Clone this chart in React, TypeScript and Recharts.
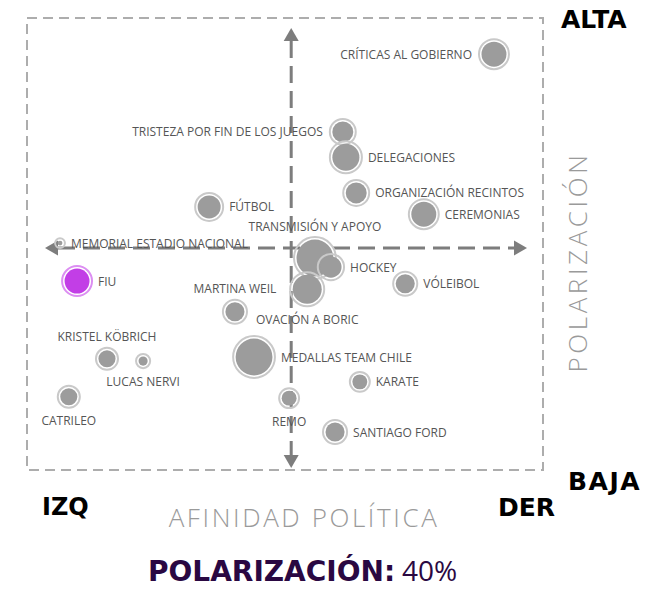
import React from 'react';
import { ScatterChart, Scatter, XAxis, YAxis, ZAxis, ReferenceArea, ReferenceLine } from 'recharts';

// topics, political affinity (0 = izq, 100 = der), polarization (0 = baja, 100 = alta), volume
const topics = [
  'CRÍTICAS AL GOBIERNO', 'TRISTEZA POR FIN DE LOS JUEGOS', 'DELEGACIONES', 'ORGANIZACIÓN RECINTOS',
  'CEREMONIAS', 'FÚTBOL', 'TRANSMISIÓN Y APOYO', 'HOCKEY', 'OVACIÓN A BORIC', 'VÓLEIBOL',
  'MEMORIAL ESTADIO NACIONAL', 'FIU', 'MARTINA WEIL', 'KRISTEL KÖBRICH', 'LUCAS NERVI', 'CATRILEO',
  'MEDALLAS TEAM CHILE', 'KARATE', 'REMO', 'SANTIAGO FORD',
];
const afinidad = [90.5, 61.2, 61.8, 63.8, 76.9, 35.3, 55.8, 58.9, 54.3, 73.3, 6.4, 9.7, 40.3, 15.5, 22.5, 8.1, 44.0, 64.5, 50.8, 59.7];
const polarizacion = [92.0, 74.8, 69.2, 61.3, 56.6, 58.2, 46.9, 44.9, 40.0, 41.2, 50.2, 41.8, 35.0, 24.6, 24.1, 16.2, 25.0, 19.5, 15.9, 8.4];
const menciones = [255, 195, 290, 195, 255, 225, 480, 200, 325, 170, 35, 255, 170, 145, 65, 145, 480, 120, 120, 170];

const highlight = 'FIU';
const polarizacionTotal = '40%';
const cross = { x: 51.2, y: 49.1 };

const labelSide: Record<string, 'left' | 'right' | 'top' | 'bottom'> = {
  'CRÍTICAS AL GOBIERNO': 'left',
  'TRISTEZA POR FIN DE LOS JUEGOS': 'left',
  'DELEGACIONES': 'right',
  'ORGANIZACIÓN RECINTOS': 'right',
  'CEREMONIAS': 'right',
  'FÚTBOL': 'right',
  'TRANSMISIÓN Y APOYO': 'top',
  'HOCKEY': 'right',
  'OVACIÓN A BORIC': 'bottom',
  'VÓLEIBOL': 'right',
  'MEMORIAL ESTADIO NACIONAL': 'right',
  'FIU': 'right',
  'MARTINA WEIL': 'top',
  'KRISTEL KÖBRICH': 'top',
  'LUCAS NERVI': 'bottom',
  'CATRILEO': 'bottom',
  'MEDALLAS TEAM CHILE': 'right',
  'KARATE': 'right',
  'REMO': 'bottom',
  'SANTIAGO FORD': 'right',
};

const data = topics.map((name, i) => ({ name, x: afinidad[i], y: polarizacion[i], z: menciones[i] }));

const FONT = '"Open Sans", sans-serif';
const BOLD = '"DejaVu Sans", sans-serif';

const Bubble = (props: any) => {
  const { cx, cy, width, payload } = props;
  const r = width / 2;
  const hi = payload.name === highlight;
  const side = labelSide[payload.name];
  let tx = cx;
  let ty = cy;
  let anchor: 'start' | 'middle' | 'end' = 'middle';
  if (side === 'right') { tx = cx + r + 5; anchor = 'start'; }
  if (side === 'left') { tx = cx - r - 6; anchor = 'end'; }
  if (side === 'top') ty = cy - r - 10;
  if (side === 'bottom') ty = cy + r + 12;
  return (
    <g>
      <circle cx={cx} cy={cy} r={r - 1} fill="none" stroke={hi ? '#dc8ef2' : '#c9c9c9'} strokeWidth={2} />
      <circle cx={cx} cy={cy} r={r - 3.5} fill={hi ? '#c23ee6' : '#9c9c9c'} />
      <text x={tx} y={ty} textAnchor={anchor} dominantBaseline="central" fontSize={12} fill="#555" fontFamily={FONT}>
        {payload.name}
      </text>
    </g>
  );
};

const Arrow = (props: any) => {
  const { x1, y1, x2, y2 } = props;
  const c = '#7d7d7d';
  const h = 13;
  const w = 7.5;
  if (x1 === x2) {
    const top = Math.min(y1, y2) + 10;
    const bot = Math.max(y1, y2) - 2;
    return (
      <g>
        <line x1={x1} y1={top + h} x2={x1} y2={bot - h} stroke={c} strokeWidth={3} strokeDasharray="17 8" />
        <polygon points={`${x1},${top} ${x1 - w},${top + h} ${x1 + w},${top + h}`} fill={c} />
        <polygon points={`${x1},${bot} ${x1 - w},${bot - h} ${x1 + w},${bot - h}`} fill={c} />
      </g>
    );
  }
  const left = Math.min(x1, x2) + 18;
  const right = Math.max(x1, x2) - 16;
  return (
    <g>
      <line x1={left + h} y1={y1} x2={right - h} y2={y1} stroke={c} strokeWidth={3} strokeDasharray="17 8" />
      <polygon points={`${left},${y1} ${left + h},${y1 - w} ${left + h},${y1 + w}`} fill={c} />
      <polygon points={`${right},${y1} ${right - h},${y1 - w} ${right - h},${y1 + w}`} fill={c} />
    </g>
  );
};

export default function App() {
  return (
    <div style={{ position: 'relative', width: 661, height: 590, background: '#fff' }}>
      <style>{'body{margin:0}'}</style>
      <ScatterChart width={661} height={590} margin={{ top: 18, right: 118, bottom: 120, left: 27 }}>
        <XAxis type="number" dataKey="x" domain={[0, 100]} hide />
        <YAxis type="number" dataKey="y" domain={[0, 100]} hide />
        <ZAxis type="number" dataKey="z" domain={[0, 500]} range={[0, 500 * Math.PI]} />
        <ReferenceArea x1={0} x2={100} y1={0} y2={100} fill="none" stroke="#adadad" strokeWidth={2} strokeDasharray="10 6" />
        <Scatter data={data} shape={Bubble} isAnimationActive={false} />
        <ReferenceLine x={cross.x} shape={Arrow} />
        <ReferenceLine y={cross.y} shape={Arrow} />
      </ScatterChart>
      <svg width={661} height={590} style={{ position: 'absolute', left: 0, top: 0, pointerEvents: 'none' }} fontFamily={FONT}>
        <text x={561} y={28} fontSize={25} fontWeight={700} fill="#000" fontFamily={BOLD}>ALTA</text>
        <text x={568} y={490} fontSize={25} fontWeight={700} fill="#000" fontFamily={BOLD} letterSpacing={1.5}>BAJA</text>
        <text x={42} y={515} fontSize={24} fontWeight={700} fill="#000" fontFamily={BOLD}>IZQ</text>
        <text x={498} y={516} fontSize={25} fontWeight={700} fill="#000" fontFamily={BOLD}>DER</text>
        <text x={304} y={527} fontSize={26} fontWeight={300} fill="#9a9a9a" textAnchor="middle" letterSpacing={2.6}>AFINIDAD POLÍTICA</text>
        <text x={577} y={262} fontSize={26} fontWeight={300} fill="#9a9a9a" textAnchor="middle" dominantBaseline="central" letterSpacing={3.6} transform="rotate(-90 577 262)">POLARIZACIÓN</text>
        <text x={148} y={581} fontSize={28} fontWeight={700} fill="#2a0842" fontFamily={BOLD}>POLARIZACIÓN:</text>
        <text x={402} y={581} fontSize={28} fontWeight={400} fill="#2a0842">{polarizacionTotal}</text>
      </svg>
    </div>
  );
}
